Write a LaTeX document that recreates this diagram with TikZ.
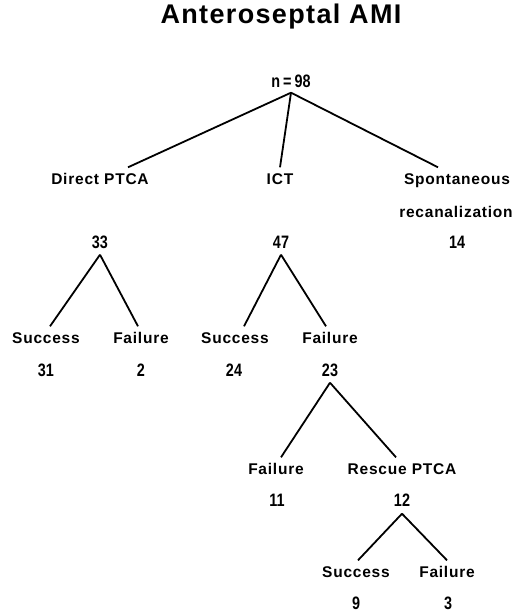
\documentclass[tikz,border=0pt]{standalone}
\usepackage{fontspec}
\setmainfont{Liberation Sans}
\newfontfamily\labfont[LetterSpace=5]{Liberation Sans}
\newfontfamily\numfont[FakeStretch=0.8]{Liberation Sans}
\begin{document}
\begin{tikzpicture}[x=1pt,y=-1pt,
    lab/.style={font=\fontsize{15.5}{18}\selectfont\labfont\bfseries,inner sep=0pt,text height=11pt,text depth=0pt},
    num/.style={font=\fontsize{18}{20}\selectfont\numfont\bfseries,inner sep=0pt,text height=13pt,text depth=0pt},
    branch/.style={line width=1.8pt}]

    \useasboundingbox (0,0) rectangle (522,612);

    % Titulo
    \node[font=\fontsize{27}{30}\selectfont\labfont\bfseries,inner sep=0pt] (title) at (281,17) {Anteroseptal AMI};

    % Primer nivel
    \node[num] (n98) at (291,81) {n\,=\,98};
    \node[lab] (direct) at (100,179) {Direct PTCA};
    \node[lab] (ict) at (280,179) {ICT};
    \node[lab] (spont) at (457,179) {Spontaneous};
    \node[lab] (recan) at (456,212) {recanalization};
    \node[num] (n33) at (100,242) {33};
    \node[num] (n47) at (281,242) {47};
    \node[num] (n14) at (457,242) {14};

    % Segundo nivel
    \node[lab] (succA) at (46,338) {Success};
    \node[lab] (failA) at (141,338) {Failure};
    \node[lab] (succB) at (235,338) {Success};
    \node[lab] (failB) at (330,338) {Failure};
    \node[num] (n31) at (46,370) {31};
    \node[num] (n2) at (141,370) {2};
    \node[num] (n24) at (234,370) {24};
    \node[num] (n23) at (330,370) {23};

    % Tercer nivel
    \node[lab] (failC) at (276,469) {Failure};
    \node[lab] (rescue) at (402,469) {Rescue PTCA};
    \node[num] (n11) at (277,500) {11};
    \node[num] (n12) at (402,500) {12};
    \node[lab] (succD) at (356,572) {Success};
    \node[lab] (failD) at (447,572) {Failure};
    \node[num] (n9) at (356,603) {9};
    \node[num] (n3) at (448,603) {3};

    % Vertices
    \coordinate (a98) at ([yshift=-5pt]n98.south);
    \coordinate (a33) at ([yshift=-6pt]n33.south);
    \coordinate (a47) at ([yshift=-6pt]n47.south);
    \coordinate (a23) at ([yshift=-6pt]n23.south);
    \coordinate (a12) at ([yshift=-7pt]n12.south);

    % Ramas
    \draw[branch] (a98) -- ([xshift=28pt,yshift=6pt]direct.north);
    \draw[branch] (a98) -- ([yshift=6pt]ict.north);
    \draw[branch] (a98) -- ([xshift=-19pt,yshift=6pt]spont.north);
    \draw[branch] (a33) -- ([xshift=4pt,yshift=6pt]succA.north);
    \draw[branch] (a33) -- ([xshift=-3pt,yshift=6pt]failA.north);
    \draw[branch] (a47) -- ([xshift=9pt,yshift=6pt]succB.north);
    \draw[branch] (a47) -- ([xshift=-4pt,yshift=6pt]failB.north);
    \draw[branch] (a23) -- ([xshift=5pt,yshift=6pt]failC.north);
    \draw[branch] (a23) -- ([xshift=-6pt,yshift=6pt]rescue.north);
    \draw[branch] (a12) -- ([xshift=2pt,yshift=6pt]succD.north);
    \draw[branch] (a12) -- ([yshift=6pt]failD.north);

\end{tikzpicture}
\end{document}
